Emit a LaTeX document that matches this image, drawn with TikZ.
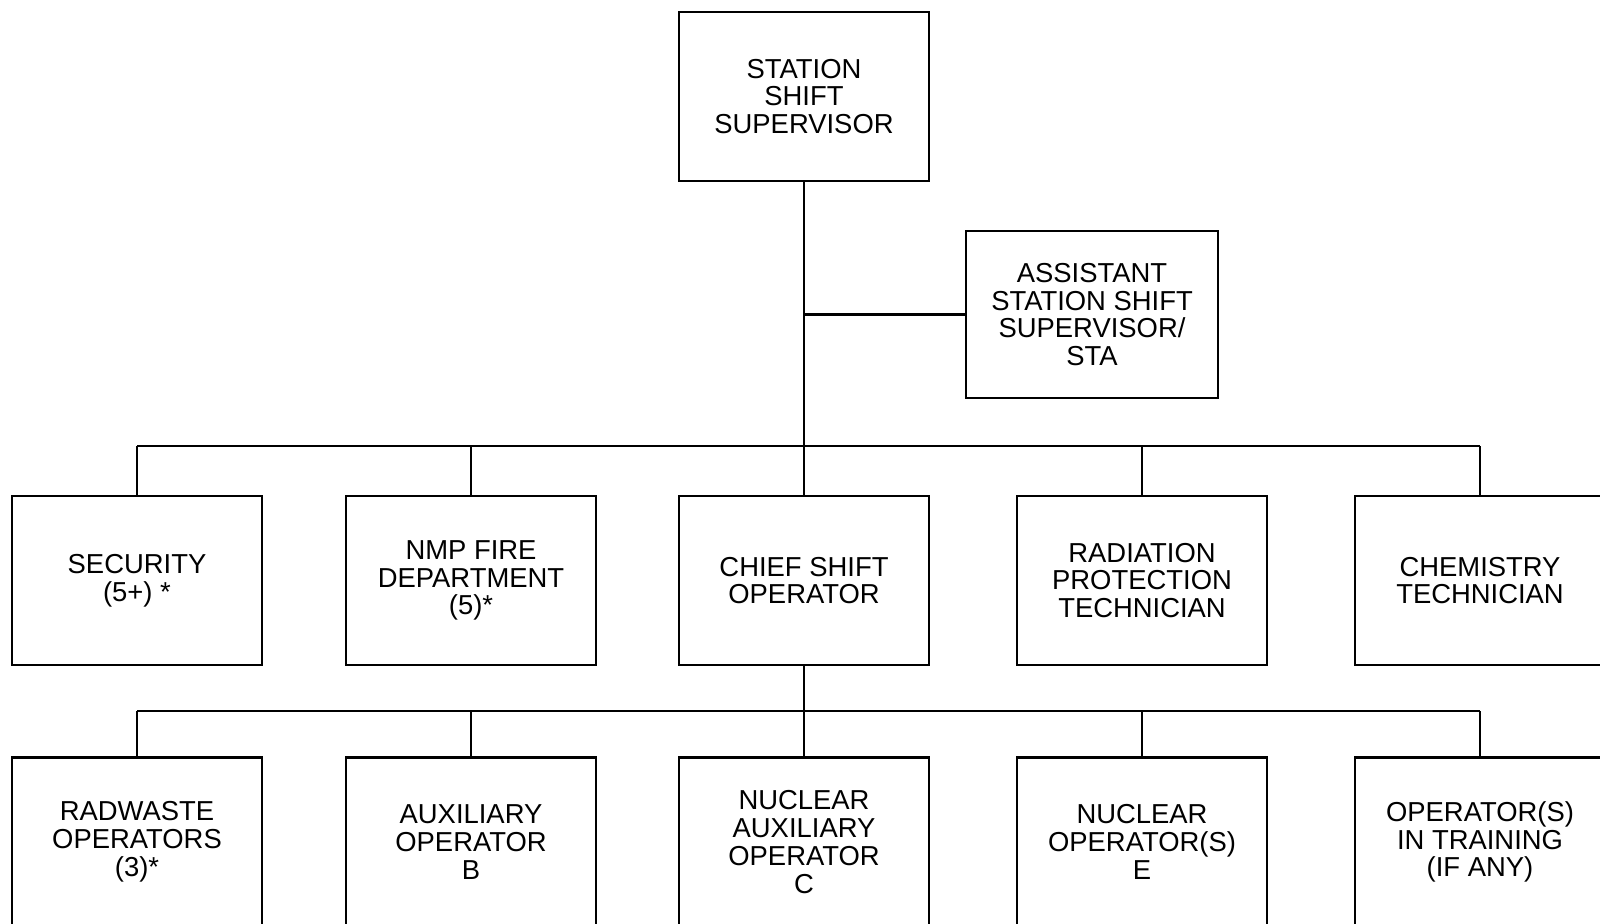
\documentclass[tikz,border=0pt]{standalone}
\usepackage{fontspec}
\setmainfont{Liberation Sans}
\usetikzlibrary{positioning,calc}

\begin{document}
\begin{tikzpicture}[
    post/.style={draw, line width=0.8pt, minimum width=2.5cm, minimum height=1.69cm, inner sep=1pt, align=center, font=\fontsize{7.8}{7.9}\selectfont},
    link/.style={line width=0.8pt}]
    \clip (0,0) rectangle (16,9.23);

    \node[post] (sss) at (8.04,8.265) {STATION\\SHIFT\\SUPERVISOR};
    \node[post, minimum width=2.52cm, minimum height=1.67cm] (asst) at (10.92,6.085) {ASSISTANT\\STATION SHIFT\\SUPERVISOR/\\STA};

    \node[post] (sec) at (1.37,3.425) {SECURITY\\(5+) *};
    \node[post] (fire) at (4.71,3.425) {NMP FIRE\\DEPARTMENT\\(5)*};
    \node[post] (cso) at (8.04,3.425) {CHIEF SHIFT\\OPERATOR};
    \node[post] (rpt) at (11.42,3.425) {RADIATION\\PROTECTION\\TECHNICIAN};
    \node[post] (chem) at (14.80,3.425) {CHEMISTRY\\TECHNICIAN};

    \node[post] (rw) at (1.37,0.81) {RADWASTE\\OPERATORS\\(3)*};
    \node[post] (aux) at (4.71,0.81) {AUXILIARY\\OPERATOR\\B};
    \node[post] (nao) at (8.04,0.81) {NUCLEAR\\AUXILIARY\\OPERATOR\\C};
    \node[post] (nop) at (11.42,0.81) {NUCLEAR\\OPERATOR(S)\\E};
    \node[post] (oit) at (14.80,0.81) {OPERATOR(S)\\IN TRAINING\\(IF ANY)};

    \coordinate (bus1) at (0,4.77);
    \coordinate (bus2) at (0,2.12);

    \draw[link] (sss.south) -- (cso.north);
    \draw[link] (asst.west) -- (asst.west -| sss.south);
    \draw[link] (sec.north |- bus1) -- (chem.north |- bus1);
    \foreach \n in {sec,fire,rpt,chem}
        \draw[link] (\n.north) -- (\n.north |- bus1);
    \draw[link] (cso.south) -- (nao.north);
    \draw[link] (rw.north |- bus2) -- (oit.north |- bus2);
    \foreach \n in {rw,aux,nop,oit}
        \draw[link] (\n.north) -- (\n.north |- bus2);
\end{tikzpicture}
\end{document}
